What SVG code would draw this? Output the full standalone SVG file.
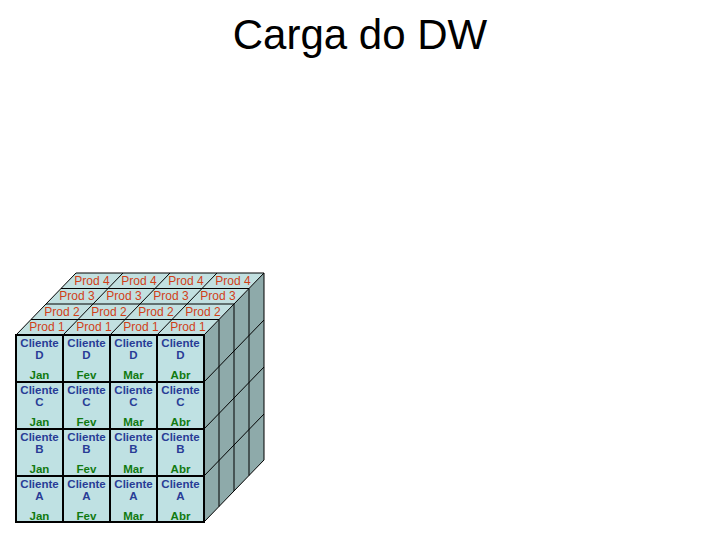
<svg xmlns="http://www.w3.org/2000/svg" width="720" height="540" viewBox="0 0 720 540">
<style>
text{font-family:"Liberation Sans",Arial,sans-serif}
.p{font-size:12px;fill:#d04018;text-anchor:middle}
.c{font-size:11.5px;fill:#283c96;text-anchor:middle;font-weight:bold}
.m{font-size:11.5px;fill:#107a10;text-anchor:middle;font-weight:bold}
.g{stroke:#000;stroke-width:1;fill:none}
</style>
<rect width="720" height="540" fill="#fff"/>
<text x="360" y="49" font-size="42" text-anchor="middle" fill="#000">Carga do DW</text>
<g id="cube">
<polygon points="16,335 204,335 264,273 76,273" fill="#c2e0e0"/>
<polygon points="204,335 264,273 264,460 204,522" fill="#8eaaaa"/>
<rect x="16" y="335" width="188" height="187" fill="#bfe1e3"/>
</g>
<g id="connectors" class="g">
<path d="M16,335L76,273M63,335L123,273M110,335L170,273M157,335L217,273M204,335L264,273"/>
<path d="M31,319.5H219M46,304H234M61,288.5H249M76,273H264"/>
<path d="M219,319.5V506.5M234,304V491M249,288.5V475.5M264,273V460"/>
<path d="M204,382L264,320M204,429L264,367M204,476L264,414M204,522L264,460"/>
<path stroke-width="2" d="M16,335H204V522H16ZM63,335V522M110,335V522M157,335V522M16,382H204M16,429H204M16,476H204"/>
</g>
<g id="top-labels">
<text class="p" x="47" y="331">Prod 1</text><text class="p" x="94" y="331">Prod 1</text><text class="p" x="141" y="331">Prod 1</text><text class="p" x="188" y="331">Prod 1</text>
<text class="p" x="62" y="316">Prod 2</text><text class="p" x="109" y="316">Prod 2</text><text class="p" x="156" y="316">Prod 2</text><text class="p" x="203" y="316">Prod 2</text>
<text class="p" x="77" y="300">Prod 3</text><text class="p" x="124" y="300">Prod 3</text><text class="p" x="171" y="300">Prod 3</text><text class="p" x="218" y="300">Prod 3</text>
<text class="p" x="92" y="285">Prod 4</text><text class="p" x="139" y="285">Prod 4</text><text class="p" x="186" y="285">Prod 4</text><text class="p" x="233" y="285">Prod 4</text>
</g>
<g id="front-labels">
<g class="c">
<text x="39.5" y="347">Cliente</text><text x="86.5" y="347">Cliente</text><text x="133.5" y="347">Cliente</text><text x="180.5" y="347">Cliente</text>
<text x="39.5" y="359">D</text><text x="86.5" y="359">D</text><text x="133.5" y="359">D</text><text x="180.5" y="359">D</text>
<text x="39.5" y="394">Cliente</text><text x="86.5" y="394">Cliente</text><text x="133.5" y="394">Cliente</text><text x="180.5" y="394">Cliente</text>
<text x="39.5" y="406">C</text><text x="86.5" y="406">C</text><text x="133.5" y="406">C</text><text x="180.5" y="406">C</text>
<text x="39.5" y="441">Cliente</text><text x="86.5" y="441">Cliente</text><text x="133.5" y="441">Cliente</text><text x="180.5" y="441">Cliente</text>
<text x="39.5" y="453">B</text><text x="86.5" y="453">B</text><text x="133.5" y="453">B</text><text x="180.5" y="453">B</text>
<text x="39.5" y="488">Cliente</text><text x="86.5" y="488">Cliente</text><text x="133.5" y="488">Cliente</text><text x="180.5" y="488">Cliente</text>
<text x="39.5" y="500">A</text><text x="86.5" y="500">A</text><text x="133.5" y="500">A</text><text x="180.5" y="500">A</text>
</g>
<g class="m">
<text x="39.5" y="379">Jan</text><text x="86.5" y="379">Fev</text><text x="133.5" y="379">Mar</text><text x="180.5" y="379">Abr</text>
<text x="39.5" y="426">Jan</text><text x="86.5" y="426">Fev</text><text x="133.5" y="426">Mar</text><text x="180.5" y="426">Abr</text>
<text x="39.5" y="473">Jan</text><text x="86.5" y="473">Fev</text><text x="133.5" y="473">Mar</text><text x="180.5" y="473">Abr</text>
<text x="39.5" y="520">Jan</text><text x="86.5" y="520">Fev</text><text x="133.5" y="520">Mar</text><text x="180.5" y="520">Abr</text>
</g>
</g>
</svg>
